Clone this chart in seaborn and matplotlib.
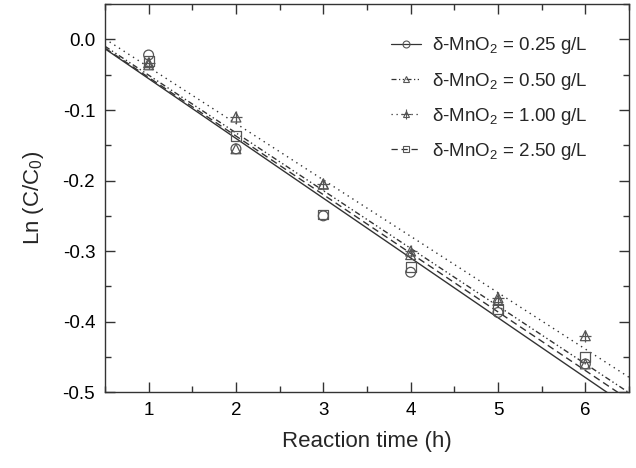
import numpy as np
import pandas as pd
import seaborn as sns
import matplotlib.pyplot as plt
from matplotlib.lines import Line2D
from matplotlib.ticker import MultipleLocator

# data
time_h = [1, 2, 3, 4, 5, 6]
ln_025 = [-0.022, -0.155, -0.250, -0.330, -0.387, -0.460]
ln_050 = [-0.036, -0.155, -0.205, -0.305, -0.370, -0.460]
ln_100 = [-0.033, -0.110, -0.205, -0.300, -0.366, -0.420]
ln_250 = [-0.030, -0.137, -0.248, -0.322, -0.382, -0.450]

labels = [r"$\delta$-MnO$_\mathregular{2}$ = 0.25 g/L",
          r"$\delta$-MnO$_\mathregular{2}$ = 0.50 g/L",
          r"$\delta$-MnO$_\mathregular{2}$ = 1.00 g/L",
          r"$\delta$-MnO$_\mathregular{2}$ = 2.50 g/L"]

sns.set_style("ticks")
plt.rcParams['font.family'] = ['Liberation Sans', 'DejaVu Sans']
plt.rcParams['mathtext.fontset'] = 'custom'
plt.rcParams['mathtext.rm'] = 'Liberation Sans'
plt.rcParams['mathtext.it'] = 'Liberation Sans:italic'
plt.rcParams['mathtext.default'] = 'regular'
plt.rcParams['axes.unicode_minus'] = False

ink = '#333333'
mk = '#555555'

fig = plt.figure(figsize=(6.36, 4.68), dpi=100)
ax = fig.add_axes([0.165, 0.162, 0.824, 0.829])
ax.set_xlim(0.5, 6.5)
ax.set_ylim(-0.5, 0.05)

series = [ln_025, ln_050, ln_100, ln_250]
styles = ['-', (0, (4, 2, 1, 2, 1, 2)), (0, (1, 3)), (0, (5, 3))]
markers = ['o', '^', '^', 's']

handles = []
for vals, ls, m, lab in zip(series, styles, markers, labels):
    df = pd.DataFrame({'t': time_h, 'y': vals})
    # linear fit drawn across the whole x range
    sns.regplot(data=df, x='t', y='y', ax=ax, scatter=False, ci=None,
                truncate=False, line_kws=dict(color=ink, lw=1, ls=ls))
    sns.scatterplot(data=df, x='t', y='y', ax=ax, marker=m, s=50,
                    facecolor='none', edgecolor=mk, linewidth=0.9, zorder=3)
    h = Line2D([], [], color=ink, lw=0.9, ls=ls, marker=m, markersize=5,
               markerfacecolor='none', markeredgecolor=mk, markeredgewidth=0.8)
    if lab.endswith('1.00 g/L'):
        sns.scatterplot(data=df, x='t', y='y', ax=ax, marker='+', s=80,
                        color=mk, linewidth=0.9, zorder=3)
        h = (h, Line2D([], [], ls='none', marker='+', markersize=7,
                       markeredgecolor=mk, markeredgewidth=0.8))
    handles.append(h)

ax.set_xlim(0.5, 6.5)
ax.set_ylim(-0.5, 0.05)
ax.xaxis.set_major_locator(MultipleLocator(1))
ax.xaxis.set_minor_locator(MultipleLocator(0.5))
ax.yaxis.set_major_locator(MultipleLocator(0.1))
ax.yaxis.set_minor_locator(MultipleLocator(0.05))
ax.yaxis.set_major_formatter(plt.FormatStrFormatter('%.1f'))
ax.tick_params(which='both', direction='in', top=True, right=True,
               colors=ink, labelcolor='black', labelsize=13.5)
ax.tick_params(which='major', length=7, width=1, pad=7)
ax.tick_params(which='minor', length=4, width=1)
for sp in ax.spines.values():
    sp.set_visible(True)
    sp.set_color(ink)
    sp.set_linewidth(1)

ax.set_xlabel('Reaction time (h)', fontsize=16, labelpad=9)
ax.set_ylabel(r'Ln (C/C$_\mathregular{0}$)', fontsize=16, labelpad=12)

ax.legend(handles=handles, labels=labels, loc='upper right', frameon=False,
          fontsize=13.5, handlelength=1.6, handletextpad=0.6,
          labelspacing=0.75, bbox_to_anchor=(0.953, 0.963))

fig.savefig('out.png', dpi=100)
